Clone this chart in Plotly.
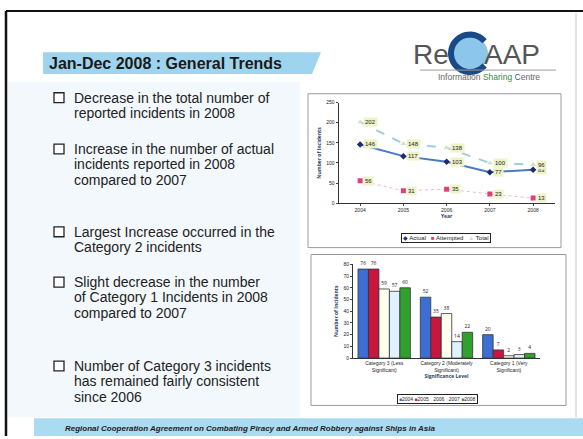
import math
import plotly.graph_objects as go

W, H = 583, 439
def X(px): return px / W
def Y(py): return 1 - py / H

# ---------------- data ----------------
years = ["2004", "2005", "2006", "2007", "2008"]
actual = [146, 117, 103, 77, 83]
attempted = [56, 31, 35, 23, 13]
total = [202, 148, 138, 100, 96]

categories = ["Category 3 (Less<br>Significant)",
              "Category 2 (Moderately<br>Significant)",
              "Category 1 (Very<br>Significant)"]
cat_2004 = [76, 52, 20]
cat_2005 = [76, 35, 7]
cat_2006 = [59, 38, 2]
cat_2007 = [57, 14, 3]
cat_2008 = [60, 22, 4]

bullets = [
    ["Decrease in the total number of", "reported incidents in 2008"],
    ["Increase in the number of actual", "incidents reported in 2008", "compared to 2007"],
    ["Largest Increase occurred in the", "Category 2 incidents"],
    ["Slight decrease in the number", "of Category 1 Incidents in 2008", "compared to 2007"],
    ["Number of Category 3 incidents", "has remained fairly consistent", "since 2006"],
]
bullet_tops = [96, 148, 232, 283, 368]

title = "Jan-Dec 2008 : General Trends"
footer = "Regional Cooperation Agreement on Combating Piracy and Armed Robbery against Ships in Asia"

FONT = "Liberation Sans, Arial"

fig = go.Figure()

# ---------------- line chart ----------------
line_specs = [
    ("Actual", actual, dict(color="#4a78c8", width=2), dict(color="#1c2a6e", size=5, symbol="diamond")),
    ("Attempted", attempted, dict(color="#f2b6c8", width=1, dash="dot"), dict(color="#e0407a", size=5, symbol="square")),
    ("Total", total, dict(color="#9fcfd6", width=2, dash="dash"), dict(color="#c8e6c0", size=5, symbol="triangle-up")),
]
for nm, vals, ln, mk in line_specs:
    fig.add_trace(go.Scatter(x=years, y=vals, name=nm, mode="lines+markers", line=ln, marker=mk,
                             xaxis="x", yaxis="y", showlegend=False))

annotations = []
for _, vals, _, _ in line_specs:
    for i, v in enumerate(vals):
        annotations.append(dict(x=i, y=v, xref="x", yref="y", text=str(v),
                                showarrow=False, xanchor="left", xshift=3,
                                font=dict(size=6, color="#222", family=FONT),
                                bgcolor="#eef3c8", borderpad=1))

# ---------------- bar chart ----------------
bar_specs = [("2004", cat_2004, "#3b6fd4"), ("2005", cat_2005, "#c8163e"),
             ("2006", cat_2006, "#fffff0"), ("2007", cat_2007, "#dff2ff"),
             ("2008", cat_2008, "#32a02e")]
for nm, vals, col in bar_specs:
    fig.add_trace(go.Bar(x=categories, y=vals, name=nm,
                         marker=dict(color=col, line=dict(color="#333", width=0.8)),
                         text=[str(v) for v in vals], textposition="outside", cliponaxis=False,
                         textfont=dict(size=5, color="#222"),
                         xaxis="x2", yaxis="y2", showlegend=False))

# compact legends (text keys)
leg1 = "   ".join(f"<span style='color:{mk['color']}'>{'◆' if mk['symbol']=='diamond' else ('■' if mk['symbol']=='square' else '▲')}</span> {nm}"
                   for nm, _, _, mk in line_specs)
annotations.append(dict(x=X(446), y=Y(238), xref="paper", yref="paper", text=leg1, showarrow=False,
                        xanchor="center", yanchor="middle", bordercolor="#222", borderwidth=1,
                        borderpad=1, bgcolor="white", font=dict(size=6, color="#222", family=FONT)))
leg2 = " ".join(f"<span style='color:{col}'>■</span>{nm}" for nm, _, col in bar_specs)
annotations.append(dict(x=X(437), y=Y(401), xref="paper", yref="paper", text=leg2, showarrow=False,
                        xanchor="center", yanchor="middle", bordercolor="#222", borderwidth=1,
                        borderpad=1, bgcolor="white", font=dict(size=5, color="#222", family=FONT)))

# ---------------- shapes ----------------
shapes = []
shapes.append(dict(type="rect", xref="paper", yref="paper", x0=X(8), x1=X(300), y0=Y(420), y1=Y(80),
                   fillcolor="#f3f8fc", line=dict(width=0), layer="below"))
shapes.append(dict(type="line", xref="paper", yref="paper", x0=X(6), x1=X(583), y0=Y(8), y1=Y(8),
                   line=dict(color="#111", width=2)))
shapes.append(dict(type="line", xref="paper", yref="paper", x0=X(6), x1=X(6), y0=Y(8), y1=Y(439),
                   line=dict(color="#111", width=2.5)))
shapes.append(dict(type="line", xref="paper", yref="paper", x0=X(576), x1=X(576), y0=Y(10), y1=Y(420),
                   line=dict(color="#c8c8c8", width=1)))
shapes.append(dict(type="path", xref="paper", yref="paper",
                   path=f"M {X(43)},{Y(50)} L {X(321)},{Y(50)} L {X(312)},{Y(72)} L {X(43)},{Y(72)} Z",
                   fillcolor="#9fd4ee", line=dict(width=0), layer="below"))
shapes.append(dict(type="rect", xref="paper", yref="paper", x0=X(34), x1=X(583), y0=Y(439), y1=Y(421),
                   fillcolor="#aadbf0", line=dict(width=0), layer="below"))
shapes.append(dict(type="rect", xref="paper", yref="paper", x0=X(308), x1=X(561), y0=Y(248), y1=Y(92),
                   fillcolor="white", line=dict(color="#9a9a9a", width=1), layer="below"))
shapes.append(dict(type="rect", xref="paper", yref="paper", x0=X(311), x1=X(566), y0=Y(408), y1=Y(255),
                   fillcolor="white", line=dict(color="#9a9a9a", width=1), layer="below"))
for top in bullet_tops:
    shapes.append(dict(type="rect", xref="paper", yref="paper", x0=X(54), x1=X(64), y0=Y(top + 5), y1=Y(top - 5),
                       fillcolor="white", line=dict(color="#222", width=1.3)))
# logo: light globe + dark blue "C" arc
shapes.append(dict(type="circle", xref="paper", yref="paper", x0=X(452), x1=X(488), y0=Y(68), y1=Y(34),
                   fillcolor="#8cc6ea", line=dict(width=0), layer="below"))
cx, cy, r = 470, 51, 19
pts = []
for k in range(0, 41):
    ang = math.radians(40 + k * (280 / 40))
    pts.append((cx + r * math.cos(ang), cy - r * math.sin(ang)))
arc = "M " + " L ".join(f"{X(px)},{Y(py)}" for px, py in pts)
shapes.append(dict(type="path", xref="paper", yref="paper", path=arc,
                   line=dict(color="#1a4a86", width=6)))
shapes.append(dict(type="line", xref="paper", yref="paper", x0=X(420), x1=X(556), y0=Y(68), y1=Y(68),
                   line=dict(color="#9a9a9a", width=1)))

# ---------------- text ----------------
annotations.append(dict(x=X(47), y=Y(61), xref="paper", yref="paper", text=f"<b>{title}</b>",
                        showarrow=False, xanchor="left", yanchor="middle",
                        font=dict(size=16, color="#1a1a1a", family=FONT)))
for lines, top in zip(bullets, bullet_tops):
    for i, ln in enumerate(lines):
        annotations.append(dict(x=X(73), y=Y(top + 15.5 * i), xref="paper", yref="paper", text=ln,
                                showarrow=False, xanchor="left", yanchor="middle", borderpad=0,
                                font=dict(size=14, color="#222", family=FONT)))
annotations.append(dict(x=X(63), y=Y(431), xref="paper", yref="paper", text=f"<b><i>{footer}</i></b>",
                        showarrow=False, xanchor="left", yanchor="middle",
                        font=dict(size=8, color="#222", family=FONT)))
annotations.append(dict(x=X(451), y=Y(52), xref="paper", yref="paper", text="Re",
                        showarrow=False, xanchor="right", yanchor="middle",
                        font=dict(size=28, color="#555", family=FONT)))
annotations.append(dict(x=X(482), y=Y(52), xref="paper", yref="paper", text="AAP",
                        showarrow=False, xanchor="left", yanchor="middle",
                        font=dict(size=28, color="#555", family=FONT)))
annotations.append(dict(x=X(489), y=Y(75), xref="paper", yref="paper",
                        text="Information <span style='color:#3a8a4a'>Sharing</span> <span style='color:#1a5a9a'>C</span>entre",
                        showarrow=False, xanchor="center", yanchor="middle",
                        font=dict(size=8.5, color="#666", family=FONT)))

tickfont = dict(size=5, color="#222", family=FONT)
fig.update_layout(
    width=W, height=H, margin=dict(l=0, r=0, t=0, b=0),
    paper_bgcolor="white", plot_bgcolor="#d6d6d6",
    showlegend=False, barmode="group", bargap=0.16, bargroupgap=0.0,
    xaxis=dict(domain=[X(338.5), X(554.75)], anchor="y", type="category", range=[-0.5, 4.5],
               tickfont=tickfont, showgrid=False, showline=True, linecolor="#333",
               ticks="outside", ticklen=2,
               title=dict(text="<b>Year</b>", font=dict(size=5), standoff=2)),
    yaxis=dict(domain=[Y(203), Y(101)], anchor="x", range=[0, 250], dtick=50, tickfont=tickfont,
               showgrid=False, showline=True, linecolor="#333", ticks="outside", ticklen=2,
               title=dict(text="<b>Number of Incidents</b>", font=dict(size=5), standoff=4)),
    xaxis2=dict(domain=[X(353), X(540)], anchor="y2", tickfont=tickfont, showgrid=False,
                showline=True, linecolor="#333",
                title=dict(text="<b>Significance Level</b>", font=dict(size=5), standoff=2)),
    yaxis2=dict(domain=[Y(360), Y(265)], anchor="x2", range=[0, 80], dtick=10, tickfont=tickfont,
                showgrid=False, showline=True, linecolor="#333", ticks="outside", ticklen=2,
                title=dict(text="<b>Number of Incidents</b>", font=dict(size=5), standoff=4)),
    shapes=shapes, annotations=annotations,
)

fig.write_html("out.html")
